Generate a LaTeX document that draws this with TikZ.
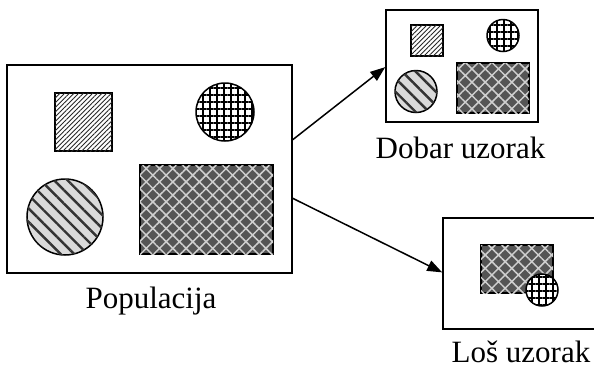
\documentclass[tikz,border=0pt]{standalone}
\usepackage{fontspec}
\setmainfont{Liberation Serif}
\usetikzlibrary{patterns.meta,arrows.meta,calc}

\definecolor{darkfill}{HTML}{555555}
\definecolor{lightfill}{HTML}{DADADA}
\definecolor{latticeline}{HTML}{CFCFCF}

\tikzset{
  frame/.style={draw, line width=1.6pt, inner sep=0pt},
  shapeline/.style={draw, line width=1.5pt, inner sep=0pt},
  finelines/.style={shapeline, rectangle, fill=white,
    postaction={pattern={Lines[angle=45, distance=3.3pt, line width=0.9pt]}, pattern color=black!85}},
  widestripes/.style={shapeline, circle, fill=lightfill,
    postaction={pattern={Lines[angle=-45, distance=9.5pt, line width=2.4pt]}, pattern color=black!80}},
  gridded/.style={shapeline, circle, fill=white,
    postaction={pattern={Hatch[angle=0, distance=7pt, line width=1.6pt]}, pattern color=black}},
  lattice/.style={shapeline, rectangle, fill=darkfill,
    postaction={pattern={Hatch[angle=45, distance=9.4pt, line width=1.5pt]}, pattern color=latticeline}},
  caption/.style={anchor=base, font=\fontsize{31}{37}\selectfont, inner sep=0pt},
  link/.style={line width=1.5pt, -{Triangle[length=15pt, width=11pt]}}
}

\begin{document}
\begin{tikzpicture}[x=1pt, y=-1pt]
\useasboundingbox (0,0) rectangle (594,368);
\clip (0,0) rectangle (594,368);

% population frame and its members
\node[frame, minimum width=285pt, minimum height=208pt] (pop) at (149.5,169) {};
\node[finelines, minimum width=57pt, minimum height=58pt] (popsq) at (83.5,122) {};
\node[gridded, minimum size=58pt] (popgrid) at (225,112) {};
\node[widestripes, minimum size=76pt] (popstripe) at (65,217) {};
\node[lattice, minimum width=133pt, minimum height=89pt] (poplat) at (206.5,209.5) {};
\node[caption] (poptxt) at (151,308) {Populacija};

% good sample
\node[frame, minimum width=152pt, minimum height=112pt] (good) at (462,66) {};
\node[finelines, minimum width=32pt, minimum height=31pt] (goodsq) at (427,40.5) {};
\node[gridded, minimum size=32pt] (goodgrid) at (503,35.5) {};
\node[widestripes, minimum size=42pt] (goodstripe) at (416,91.5) {};
\node[lattice, minimum width=72pt, minimum height=50pt] (goodlat) at (493,88) {};
\node[caption] (goodtxt) at (460.5,158) {Dobar uzorak};

% bad sample
\node[frame, minimum width=160pt, minimum height=111pt] (bad) at (523,273.5) {};
\node[lattice, minimum width=72pt, minimum height=48pt] (badlat) at (517,269) {};
\node[gridded, minimum size=32pt] (badgrid) at (542,290) {};
\node[caption] (badtxt) at (521,362) {Loš uzorak};

% sampling arrows
\coordinate (outA) at ($(pop.north east)!0.36!(pop.south east)$);
\coordinate (outB) at ($(pop.north east)!0.64!(pop.south east)$);
\coordinate (inA) at ($(good.north west)!0.51!(good.south west)$);
\coordinate (inB) at ($(bad.north west)!0.49!(bad.south west)$);
\draw[link] (outA) -- (inA);
\draw[link] (outB) -- (inB);
\end{tikzpicture}
\end{document}
